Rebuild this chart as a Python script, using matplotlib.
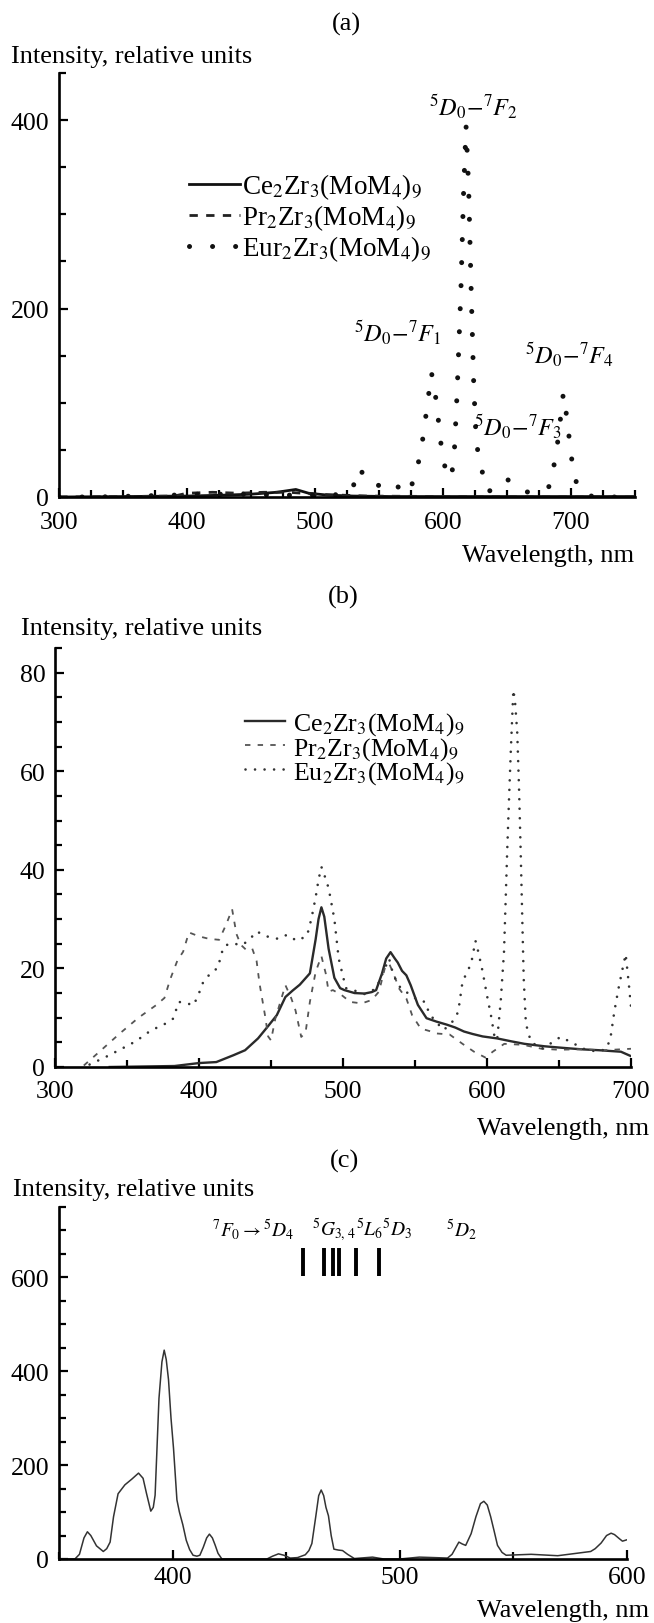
import numpy as np
import matplotlib
matplotlib.use('Agg')
import matplotlib.pyplot as plt
from matplotlib.ticker import MultipleLocator

plt.rcParams['font.family'] = 'serif'
plt.rcParams['font.serif'] = ['Liberation Serif', 'DejaVu Serif']
plt.rcParams['mathtext.fontset'] = 'stix'

# ---------------- data, panel (a): luminescence ----------------
a_ce_x = [300, 350, 400, 430, 450, 470, 485, 495, 510, 530, 560, 600, 650, 750]
a_ce_y = [0, 0.5, 1, 2, 3, 5, 8, 4, 2, 1, 0.5, 0.5, 0.5, 0.5]

a_pr_x = [300, 350, 390, 400, 420, 440, 460, 480, 500, 520, 540, 600, 750]
a_pr_y = [0, 0.5, 1, 4, 5, 4, 5, 5, 3, 2, 1, 0.5, 0]

a_eu_x = [300, 330, 360, 390, 410, 430, 450, 470, 490, 510, 525, 530, 535, 540, 545,
          552, 560, 567, 572, 578, 583, 587, 591, 595, 598, 603, 607, 609, 611, 614,
          616, 618, 620, 622, 624, 626, 630, 634, 642, 650, 660, 669, 676, 684, 687,
          690, 694, 697, 700, 703, 707, 712, 720, 735, 750]
a_eu_y = [0, 0, 1, 2, 3, 3, 3, 2, 2, 2, 3, 12, 31, 17, 13,
          12, 17, 8, 3, 20, 50, 90, 132, 100, 60, 20, 25, 52, 110, 220,
          320, 394, 330, 220, 120, 57, 31, 6, 8, 19, 8, 4, 6, 12, 36,
          62, 110, 82, 45, 20, 6, 2, 0, 0, 0]

# ---------------- data, panel (b) ----------------
b_ce_x = [338, 360, 383, 400, 412, 424, 432, 441, 448, 454, 460, 465, 470, 477, 481,
          483, 485, 487, 490, 494, 498, 501, 508, 515, 520, 523, 527, 530, 533, 536,
          538, 541, 544, 547, 552, 558, 565, 572, 578, 584, 590, 597, 607, 617, 626,
          640, 652, 665, 678, 693, 700]
b_ce_y = [0, 0.1, 0.2, 0.8, 1.0, 2.4, 3.4, 5.8, 8.3, 10.5, 14.2, 15.5, 16.7, 19.0, 25.9,
          30, 32.4, 30.5, 24, 18.1, 16, 15.6, 15.0, 14.9, 15.2, 15.6, 18.9, 22, 23.3, 22,
          21.2, 19.5, 18.6, 16.6, 12.6, 9.9, 9.2, 8.6, 8.0, 7.2, 6.7, 6.2, 5.8, 5.2, 4.7,
          4.2, 3.9, 3.6, 3.4, 3.1, 2.2]

b_pr_x = [320, 332, 345, 358, 370, 376, 380, 385, 389, 393, 400, 407, 414, 419, 423,
          426, 429, 433, 437, 440, 442, 446, 448, 450, 453, 460, 464, 467, 471, 474,
          477, 481, 485, 488, 490, 493, 499, 505, 513, 520, 525, 529, 532, 535, 539,
          544, 548, 554, 560, 565, 574, 583, 591, 599, 604, 612, 625, 638, 650, 665,
          681, 700]
b_pr_y = [0.3, 3.4, 6.8, 10, 12.5, 14, 17.8, 21.6, 23.4, 27.3, 26.5, 26, 25.8, 29, 32,
          27, 24.8, 23.7, 24, 21.5, 17, 10.2, 6.2, 5.4, 9.8, 16.6, 14, 11.5, 6.1, 7,
          13.2, 19.3, 22.5, 19, 15.3, 15.6, 14.6, 13.2, 12.9, 13.6, 15.3, 20.0, 21, 19, 15.9,
          13.9, 10.5, 7.8, 7.3, 6.8, 6.6, 4.7, 3.1, 1.9, 3.1, 4.7, 4.5, 3.7, 3.5, 3.6,
          3.4, 3.7]

b_eu_x = [324, 335, 345, 356, 367, 375, 382, 386, 391, 396, 399, 403, 408, 413, 417,
          421, 425, 429, 434, 440, 447, 455, 461, 468, 475, 478, 481, 483, 485, 487,
          490, 494, 497, 502, 507, 515, 523, 528, 532, 535, 540, 547, 552, 557, 560,
          565, 570, 577, 580, 583, 589, 592, 594, 597, 600, 603, 605, 607, 609.5, 611.8,
          613, 614, 615.3, 616.5, 618.3, 619.5, 621, 622.2, 623.4, 624.5, 625.5, 627, 630.5, 638, 646,
          651, 658, 667, 675, 682, 685.5, 688.4, 691.3, 694.2, 696.3, 698.6, 700]
b_eu_y = [0.5, 2, 3.5, 5.2, 7.5, 8.5, 9.8, 13.2, 13, 12.5, 14.2, 17.3, 19, 20.1, 24.4,
          25, 25, 24.7, 25.5, 27.5, 26.5, 26, 26.8, 25.6, 26.6, 30, 34.4, 38, 40.6, 39,
          36.3, 30, 22, 16, 15.6, 14.8, 15.9, 19.3, 22, 18.6, 16, 14.6, 13.6, 13.2, 10.8,
          9, 7.5, 9.5, 11.2, 17.3, 21, 25.6, 23.3, 19.3, 14.5, 10.1, 6.5, 5.4, 13.2, 23.3,
          34.2, 43.6, 54.4, 63.9, 76.5, 74, 67.8, 57, 43.6, 30, 17.9, 8.8, 5.1, 3.7, 5.1,
          6.1, 5.1, 3.7, 3.2, 3.5, 5.4, 11.2, 15.9, 20, 22.9, 16.5, 12.2]

# ---------------- data, panel (c): excitation ----------------
c_x = [350, 357, 359, 361, 362.5, 364, 366.5, 369.5, 371, 372.5, 374, 376, 379, 382, 385,
       387, 388.5, 390.4, 391.5, 392.3, 393, 394, 395.3, 396.3, 397.2, 398.2, 399.3, 400.4, 401.9, 403,
       404.5, 406, 407.5, 409, 410.7, 412, 413.5, 415, 416.2, 417.5, 418.7, 420, 421.7, 441.5, 444,
       446.6, 449, 451.8, 455, 458.4, 460, 461.3, 463, 464.3, 465.4, 466.5, 467.5, 468.6, 469.8, 471,
       473, 474.8, 477, 480, 488, 493, 500, 508.6, 515, 521, 523, 526, 527.5, 529, 531.4,
       533.5, 535.5, 537, 538.5, 540, 541.5, 543, 545, 546.8, 557.8, 569.5, 584, 586, 588.6, 591,
       593, 594.5, 596.7, 598, 600]
c_y = [0, 0, 10, 45, 58, 50, 28, 16, 22, 36, 90, 139, 158, 170, 183,
       172, 140, 102, 110, 136, 220, 342, 420, 445, 425, 382, 300, 236, 126, 100,
       73, 40, 20, 8, 6, 8, 25, 45, 53, 45, 30, 12, 0, 0, 6,
       11, 8, 2, 3, 9, 18, 33, 90, 135, 147, 135, 110, 92, 50, 21,
       19, 18, 10, 1, 4, 0, 0, 4, 3, 2, 10, 36, 32, 29, 54,
       90, 118, 123, 115, 90, 60, 29, 14, 8, 10, 7, 16, 22, 34, 50,
       55, 52, 43, 38, 41]

trans_bars = [457.5, 466.7, 470.7, 473.3, 480.8, 490.9]

lbl_a = ['Ce$_2$Zr$_3$(MoM$_4$)$_9$', 'Pr$_2$Zr$_3$(MoM$_4$)$_9$', 'Eur$_2$Zr$_3$(MoM$_4$)$_9$']
lbl_b = ['Ce$_2$Zr$_3$(MoM$_4$)$_9$', 'Pr$_2$Zr$_3$(MoM$_4$)$_9$', 'Eu$_2$Zr$_3$(MoM$_4$)$_9$']

W, H = 654, 1624
fig = plt.figure(figsize=(W / 100, H / 100), dpi=100)


def axes_px(l, t, r, b):
    return fig.add_axes([l / W, 1 - b / H, (r - l) / W, (b - t) / H])


def style(ax, xmaj, xmin, ymaj, ymin, xpad):
    for s in ('top', 'right'):
        ax.spines[s].set_visible(False)
    for s in ('left', 'bottom'):
        ax.spines[s].set_linewidth(1.9)
    ax.xaxis.set_major_locator(MultipleLocator(xmaj))
    ax.xaxis.set_minor_locator(MultipleLocator(xmin))
    ax.yaxis.set_major_locator(MultipleLocator(ymaj))
    ax.yaxis.set_minor_locator(MultipleLocator(ymin))
    ax.tick_params(which='both', direction='in', width=1.6, labelsize=18.5)
    ax.tick_params(which='major', length=6.5)
    ax.tick_params(which='minor', length=5)
    ax.tick_params(axis='x', pad=xpad)
    ax.tick_params(axis='y', pad=7)


def fig_text(x, y, s, **kw):
    fig.text(x / W, 1 - y / H, s, **kw)


# ---------------- (a) ----------------
ax0 = axes_px(59, 74, 635, 498)
ax0.plot(a_ce_x, a_ce_y, color='#111111', lw=2.0, label=lbl_a[0])
ax0.plot(a_pr_x, a_pr_y, color='#222222', lw=2.0, linestyle=(0, (3, 3)), label=lbl_a[1])
ax0.plot(a_eu_x, a_eu_y, color='#111111', lw=3.6, linestyle=(0, (0.01, 4.6)),
         dash_capstyle='round', label=lbl_a[2])
ax0.set_xlim(300, 750)
ax0.set_ylim(0, 450)
style(ax0, 100, 25, 200, 50, 10)
ax0.legend(loc='center left', bbox_to_anchor=(0.2257, 0.66), frameon=False,
           fontsize=19.5, handlelength=1.9, handletextpad=0.05, labelspacing=0.05,
           borderpad=0, borderaxespad=0)
ann = [(623.4, 414, '${}^5D_0{-}{}^7F_2$'), (564.8, 175, '${}^5D_0{-}{}^7F_1$'),
       (698.4, 151, '${}^5D_0{-}{}^7F_4$'), (658.6, 75, '${}^5D_0{-}{}^7F_3$')]
for x, y, s in ann:
    ax0.text(x, y, s, fontsize=17.5, ha='center', va='center')

# ---------------- (b) ----------------
ax1 = axes_px(55, 649, 631, 1068)
ax1.plot(b_ce_x, b_ce_y, color='#2a2a2a', lw=1.7, label=lbl_b[0])
ax1.plot(b_pr_x, b_pr_y, color='#555555', lw=1.3, linestyle=(0, (3, 4)), label=lbl_b[1])
ax1.plot(b_eu_x, b_eu_y, color='#333333', lw=1.9, linestyle=(0, (0.01, 3.6)),
         dash_capstyle='round', label=lbl_b[2])
ax1.set_xlim(300, 700)
ax1.set_ylim(0, 85)
style(ax1, 100, 50, 20, 5, 9)
ax1.legend(loc='center left', bbox_to_anchor=(0.33, 0.761), frameon=False,
           fontsize=18.5, handlelength=1.55, handletextpad=0.3, labelspacing=-0.1,
           borderpad=0, borderaxespad=0)

# ---------------- (c) ----------------
ax2 = axes_px(59, 1208, 627, 1560)
ax2.plot(c_x, c_y, color='#333333', lw=1.1)
ax2.vlines(trans_bars, 604, 662, color='k', lw=2.8)
ax2.set_xlim(350, 600)
ax2.set_ylim(0, 750)
style(ax2, 100, 50, 200, 50, 5)
ax2.text(417.4, 704, r'${}^7F_0 \rightarrow {}^5D_4$', fontsize=14, ha='left', va='center')
ax2.text(461.5, 704, r'${}^5G_{3,\,4}{}^5L_6{}^5D_3$', fontsize=14, ha='left', va='center')
ax2.text(520.5, 704, r'${}^5D_2$', fontsize=14, ha='left', va='center')

# ---------------- figure texts ----------------
for (x, y), s in zip([(346, 24), (343, 597), (345, 1161)], ['(a)', '(b)', '(c)']):
    fig_text(x, y, s, fontsize=19, ha='center', va='center')
for (x, y) in [(11, 63), (21, 635), (13, 1196)]:
    fig_text(x, y, 'Intensity, relative units', fontsize=19, ha='left', va='baseline')
for (x, y) in [(634, 562), (649, 1135), (649, 1617)]:
    fig_text(x, y, 'Wavelength, nm', fontsize=19, ha='right', va='baseline')

fig.savefig('out.png', dpi=100)
